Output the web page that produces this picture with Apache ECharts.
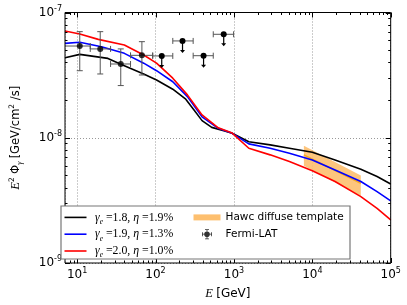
<!DOCTYPE html>
<html><head><meta charset="utf-8">
<script src="https://cdn.jsdelivr.net/npm/echarts@6/dist/echarts.min.js"></script>
<style>html,body{margin:0;padding:0;background:#fff}#c{width:407px;height:305px}</style>
</head><body><div id="c"></div>
<script>
// ---- data ----
const xTickValues = [10, 100, 1000, 10000, 100000];
const yTickValues = [1e-9, 1e-8, 1e-7];

const model18 = [[7,4.35e-8],[10.8,4.63e-8],[24.7,4.3e-8],[38,3.81e-8],[70.6,3.23e-8],[103,2.89e-8],[166,2.44e-8],[243,2.03e-8],[308,1.67e-8],[392,1.37e-8],[521,1.21e-8],[762,1.13e-8],[950,1.085e-8],[1549,9.3e-9],[2900,8.77e-9],[5100,8.24e-9],[10000,7.66e-9],[19500,6.65e-9],[41600,5.6e-9],[67000,4.9e-9],[100000,4.27e-9]];
const model19 = [[7,5.67e-8],[10.8,5.78e-8],[20.4,5.33e-8],[40,4.72e-8],[70.6,3.94e-8],[103,3.43e-8],[166,2.8e-8],[255,2.13e-8],[392,1.47e-8],[631,1.19e-8],[950,1.085e-8],[1549,8.93e-9],[2900,8.24e-9],[5100,7.52e-9],[10000,6.65e-9],[19500,5.53e-9],[41600,4.47e-9],[67000,3.71e-9],[100000,3.13e-9]];
const model20 = [[7,7.11e-8],[10.8,6.73e-8],[18.6,6.1e-8],[40,5.5e-8],[70.6,4.58e-8],[103,3.94e-8],[166,2.99e-8],[255,2.2e-8],[392,1.52e-8],[631,1.2e-8],[950,1.09e-8],[1549,8.24e-9],[2900,7.3e-9],[5100,6.45e-9],[10000,5.46e-9],[19500,4.47e-9],[41600,3.39e-9],[67000,2.73e-9],[100000,2.21e-9]];

// HAWC band: energy, lower, upper, central
const hawcE = [7800, 41600];
const hawcLo = [5.98e-9, 3.43e-9];
const hawcHi = [8.65e-9, 4.99e-9];
const hawcMid = [7.3e-9, 4.33e-9];

// Fermi-LAT points: E, flux, Elo, Ehi, Flo, Fhi
const fermiE = [10.8, 19.7, 36, 67];
const fermiF = [5.4e-8, 5.12e-8, 3.88e-8, 4.55e-8];
const fermiElo = [6.5, 14.7, 26.7, 48];
const fermiEhi = [14.7, 26.7, 48, 92];
const fermiFlo = [3.43e-8, 3.23e-8, 2.61e-8, 3.17e-8];
const fermiFhi = [7.03e-8, 7.03e-8, 5.12e-8, 5.85e-8];

// Fermi-LAT upper limits
const ulE = [120, 221, 410, 741];
const ulF = [4.5e-8, 5.93e-8, 4.52e-8, 6.7e-8];
const ulElo = [92, 166, 302, 545];
const ulEhi = [166, 302, 545, 990];

// minor tick positions (2..9 x decade)
const xMinor = [], yMinor = [];
for (let d = 0; d <= 4; d++) for (let m = 2; m <= 9; m++) { const v = m * Math.pow(10, d); if (v > 7 && v < 1e5) xMinor.push(v); }
for (let d = -9; d <= -8; d++) for (let m = 2; m <= 9; m++) yMinor.push(m * Math.pow(10, d));

const chart = echarts.init(document.getElementById('c'), null, {renderer: 'canvas'});

const X0 = 7, X1 = 1e5, Y0 = 1e-9, Y1 = 1e-7;
const sansFont = 'DejaVu Sans';
const serif = 'Liberation Serif';

function supLabel(v) {
  const e = Math.round(Math.log10(v));
  if (Math.abs(Math.log10(v) - e) > 1e-6) return '';
  return '{b|10}{s|' + e + '}';
}
const tickRich = {
  b: {fontFamily: sansFont, fontSize: 12, lineHeight: 16, color: '#000'},
  s: {fontFamily: sansFont, fontSize: 8, lineHeight: 10, verticalAlign: 'top', color: '#000'}
};

const legendNames = {
  'g18': '{g|γ}{sub|e}{t| =1.8, }{g|η}{t| =1.9%}',
  'g19': '{g|γ}{sub|e}{t| =1.9, }{g|η}{t| =1.3%}',
  'g20': '{g|γ}{sub|e}{t| =2.0, }{g|η}{t| =1.0%}',
  'Hawc diffuse template': '{h|Hawc diffuse template}',
  'Fermi-LAT': '{h|Fermi-LAT}'
};
const legendRich = {
  g: {fontFamily: serif, fontStyle: 'italic', fontSize: 11.8, lineHeight: 16.8, color: '#000'},
  sub: {fontFamily: serif, fontStyle: 'italic', fontSize: 7.5, lineHeight: 10, verticalAlign: 'bottom', color: '#000'},
  t: {fontFamily: serif, fontSize: 11.8, lineHeight: 16.8, color: '#000'},
  h: {fontFamily: sansFont, fontSize: 10.5, lineHeight: 16.8, color: '#000'}
};

function tickSeries(data, isX) {
  return {
    type: 'custom', silent: true, z: 6, clip: false,
    data: data.map(d => isX ? [d.v, Y0, d.len] : [X0, d.v, d.len]),
    renderItem: function (params, api) {
      const len = api.value(2);
      const st = {stroke: '#000', lineWidth: 1};
      if (isX) {
        const b = api.coord([api.value(0), Y0]);
        const t = api.coord([api.value(0), Y1]);
        const x = Math.round(b[0]) + 0.5;
        return {type: 'group', children: [
          {type: 'line', shape: {x1: x, y1: b[1], x2: x, y2: b[1] - len}, style: st},
          {type: 'line', shape: {x1: x, y1: t[1], x2: x, y2: t[1] + len}, style: st}
        ]};
      } else {
        const l = api.coord([X0, api.value(1)]);
        const r = api.coord([X1, api.value(1)]);
        const y = Math.round(l[1]) + 0.5;
        return {type: 'group', children: [
          {type: 'line', shape: {x1: l[0], y1: y, x2: l[0] + len, y2: y}, style: st},
          {type: 'line', shape: {x1: r[0], y1: y, x2: r[0] - len, y2: y}, style: st}
        ]};
      }
    }
  };
}

const option = {
  animation: false,
  backgroundColor: '#fff',
  grid: {left: 56, right: 16.3, top: 12.5, bottom: 41, show: true, borderColor: '#000', borderWidth: 1, backgroundColor: 'transparent', z: 5},
  xAxis: {
    type: 'log', min: X0, max: X1, logBase: 10,
    axisLine: {show: false}, axisTick: {show: false},
    splitLine: {show: true, lineStyle: {color: '#999', type: [1, 2], width: 1}},
    axisLabel: {formatter: supLabel, rich: tickRich, margin: 4, showMinLabel: true},
    name: '{i|E} {n|[GeV]}', nameLocation: 'middle', nameGap: 24,
    nameTextStyle: {rich: {i: {fontFamily: serif, fontStyle: 'italic', fontSize: 12.5, color: '#000'}, n: {fontFamily: sansFont, fontSize: 12, color: '#000'}}}
  },
  yAxis: {
    type: 'log', min: Y0, max: Y1, logBase: 10,
    axisLine: {show: false}, axisTick: {show: false},
    splitLine: {show: true, lineStyle: {color: '#999', type: [1, 2], width: 1}},
    axisLabel: {formatter: supLabel, rich: tickRich, margin: 3},
    name: '{i|E}{s|2} {n|Φ}{sb|γ} {n|[GeV/cm}{s|2}{n| /s]}', nameLocation: 'middle', nameGap: 41, nameRotate: 90,
    nameTextStyle: {rich: {
      i: {fontFamily: serif, fontStyle: 'italic', fontSize: 12.5, lineHeight: 16, color: '#000'},
      n: {fontFamily: sansFont, fontSize: 11.5, lineHeight: 16, color: '#000'},
      s: {fontFamily: sansFont, fontSize: 7.5, lineHeight: 10, verticalAlign: 'top', color: '#000'},
      sb: {fontFamily: serif, fontStyle: 'italic', fontSize: 8, lineHeight: 10, verticalAlign: 'bottom', color: '#000'}
    }}
  },
  graphic: {elements: [{type: 'rect', z: 8, silent: true, shape: {x: 61, y: 206, width: 289, height: 53}, style: {fill: '#fff', stroke: '#777', lineWidth: 1.2}}]},
  legend: [
    {
      data: ['g18', 'g19', 'g20'], orient: 'vertical', left: 64.5, top: 209, padding: 0, itemGap: 0,
      itemWidth: 22, itemHeight: 10, selectedMode: false, z: 20,
      icon: 'path://M0,0h22v1.6h-22z',
      formatter: n => legendNames[n], textStyle: {rich: legendRich, lineHeight: 16.8, padding: [0, 0, 0, 3.5]}
    },
    {
      data: [{name: 'Hawc diffuse template', icon: 'path://M0,0h27v6h-27z'},
             {name: 'Fermi-LAT', icon: 'path://M0,4.6h10v0.8h-10z M0,3h0.8v4h-0.8z M9.2,3h0.8v4h-0.8z M4.6,0h0.8v10h-0.8z M3,0h4v0.8h-4z M3,9.2h4v0.8h-4z M2.2,5a2.8,2.8 0 1 1 5.6,0a2.8,2.8 0 1 1 -5.6,0z'}],
      orient: 'vertical', left: 193.5, top: 209, padding: 0, itemGap: 0,
      itemWidth: 27, itemHeight: 10, selectedMode: false, z: 20,
      formatter: n => legendNames[n], textStyle: {rich: legendRich, lineHeight: 16.8}
    }
  ],
  series: [
    {
      name: 'Hawc diffuse template', type: 'custom', z: 2, clip: true,
      itemStyle: {color: '#fdbf6f'},
      data: hawcE.map((e, i) => [e, hawcLo[i], hawcHi[i]]),
      renderItem: function (params, api) {
        if (params.dataIndex !== 0) return null;
        const pts = [];
        for (let i = 0; i < hawcE.length; i++) pts.push(api.coord([hawcE[i], hawcHi[i]]));
        for (let i = hawcE.length - 1; i >= 0; i--) pts.push(api.coord([hawcE[i], hawcLo[i]]));
        return {type: 'polygon', shape: {points: pts}, style: {fill: '#fdbf6f', opacity: 0.9}};
      }
    },
    {
      name: 'hawcmid', type: 'line', z: 2, showSymbol: false, silent: true,
      data: hawcE.map((e, i) => [e, hawcMid[i]]),
      lineStyle: {color: '#f5a623', width: 1.5}
    },
    {name: 'g18', type: 'line', z: 3, showSymbol: false, data: model18, color: '#000', lineStyle: {color: '#000', width: 1.6}},
    {name: 'g19', type: 'line', z: 3, showSymbol: false, data: model19, color: '#0000ff', lineStyle: {color: '#0000ff', width: 1.6}},
    {name: 'g20', type: 'line', z: 3, showSymbol: false, data: model20, color: '#ff0000', lineStyle: {color: '#ff0000', width: 1.6}},
    {
      name: 'fermiErr', type: 'custom', z: 4, clip: true, silent: true,
      data: fermiE.map((e, i) => [e, fermiF[i], fermiElo[i], fermiEhi[i], fermiFlo[i], fermiFhi[i]]),
      renderItem: function (params, api) {
        const E = api.value(0), F = api.value(1);
        const l = api.coord([api.value(2), F]), r = api.coord([api.value(3), F]);
        const b = api.coord([E, api.value(4)]), t = api.coord([E, api.value(5)]);
        const st = {stroke: '#555', lineWidth: 1};
        const c = 3;
        return {type: 'group', children: [
          {type: 'line', shape: {x1: l[0], y1: l[1], x2: r[0], y2: r[1]}, style: st},
          {type: 'line', shape: {x1: l[0], y1: l[1] - c, x2: l[0], y2: l[1] + c}, style: st},
          {type: 'line', shape: {x1: r[0], y1: r[1] - c, x2: r[0], y2: r[1] + c}, style: st},
          {type: 'line', shape: {x1: b[0], y1: b[1], x2: t[0], y2: t[1]}, style: st},
          {type: 'line', shape: {x1: b[0] - c, y1: b[1], x2: b[0] + c, y2: b[1]}, style: st},
          {type: 'line', shape: {x1: t[0] - c, y1: t[1], x2: t[0] + c, y2: t[1]}, style: st}
        ]};
      }
    },
    {
      name: 'fermiUL', type: 'custom', z: 4, clip: true, silent: true,
      data: ulE.map((e, i) => [e, ulF[i], ulElo[i], ulEhi[i]]),
      renderItem: function (params, api) {
        const E = api.value(0), F = api.value(1);
        const p = api.coord([E, F]);
        const l = api.coord([api.value(2), F]), r = api.coord([api.value(3), F]);
        const st = {stroke: '#555', lineWidth: 1};
        const c = 3, len = 12;
        return {type: 'group', children: [
          {type: 'line', shape: {x1: l[0], y1: l[1], x2: r[0], y2: r[1]}, style: st},
          {type: 'line', shape: {x1: l[0], y1: l[1] - c, x2: l[0], y2: l[1] + c}, style: st},
          {type: 'line', shape: {x1: r[0], y1: r[1] - c, x2: r[0], y2: r[1] + c}, style: st},
          {type: 'line', shape: {x1: p[0], y1: p[1], x2: p[0], y2: p[1] + len - 2}, style: {stroke: '#000', lineWidth: 1.2}},
          {type: 'polygon', shape: {points: [[p[0] - 2.5, p[1] + len - 3], [p[0] + 2.5, p[1] + len - 3], [p[0], p[1] + len]]}, style: {fill: '#000'}},
          {type: 'circle', shape: {cx: p[0], cy: p[1], r: 3}, style: {fill: '#000'}}
        ]};
      }
    },
    {
      name: 'Fermi-LAT', type: 'scatter', z: 5, symbol: 'circle', symbolSize: 6,
      itemStyle: {color: '#000'},
      data: fermiE.map((e, i) => [e, fermiF[i]])
    },
    tickSeries(xTickValues.map(v => ({v: v, len: 5})).concat(xMinor.map(v => ({v: v, len: 2.5}))), true),
    tickSeries(yTickValues.map(v => ({v: v, len: 5})).concat(yMinor.map(v => ({v: v, len: 2.5}))), false)
  ]
};
chart.setOption(option);
</script>
</body></html>
